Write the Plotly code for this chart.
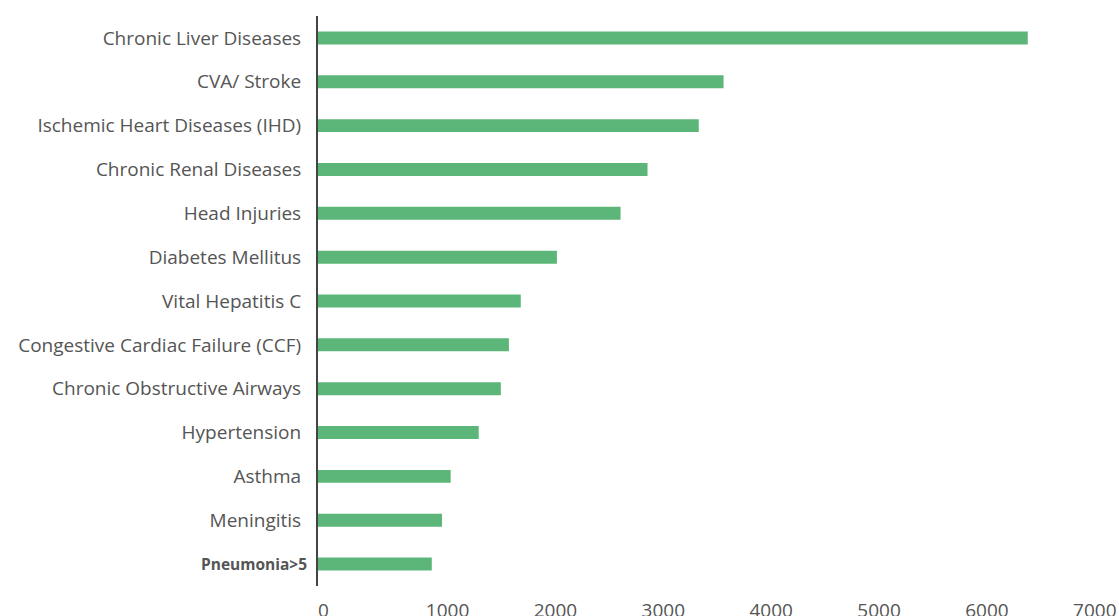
import plotly.graph_objects as go

# Conditions, listed top to bottom
conditions = [
    "Chronic Liver Diseases",
    "CVA/ Stroke",
    "Ischemic Heart Diseases (IHD)",
    "Chronic Renal Diseases",
    "Head Injuries",
    "Diabetes Mellitus",
    "Vital Hepatitis C",
    "Congestive Cardiac Failure (CCF)",
    "Chronic Obstructive Airways",
    "Hypertension",
    "Asthma",
    "Meningitis",
    "Pneumonia>5",
]
cases = [6580, 3760, 3530, 3055, 2805, 2215, 1880, 1770, 1695, 1490, 1230, 1150, 1055]
x_ticks = [0, 1000, 2000, 3000, 4000, 5000, 6000, 7000]

highlight = "Pneumonia>5"

# Regular tick text; the highlighted condition is drawn separately as bold annotation
tick_text = ["" if name == highlight else name for name in conditions]

fig = go.Figure(
    go.Bar(
        x=cases,
        y=conditions,
        orientation="h",
        marker=dict(color="#5db679", line=dict(width=0)),
        hoverinfo="x+y",
    )
)

plot_left = 318
fig_width = 1119

fig.update_layout(
    width=fig_width,
    height=616,
    margin=dict(l=plot_left, r=0, t=16, b=30),
    paper_bgcolor="white",
    plot_bgcolor="white",
    bargap=0.704,
    showlegend=False,
    font=dict(family="Open Sans", size=19, color="#555555"),
)

fig.add_annotation(
    x=-9 / (fig_width - plot_left),
    xref="paper",
    y=highlight,
    yref="y",
    text="<b>" + highlight.replace(">", "&gt;") + "</b>",
    showarrow=False,
    xanchor="right",
    yanchor="middle",
    font=dict(family="Open Sans", size=15.5, color="#555555"),
)

fig.update_xaxes(
    range=[0, 7426],
    tickmode="array",
    tickvals=x_ticks,
    ticktext=[str(v) for v in x_ticks],
    ticklabelposition="outside right",
    ticks="",
    showgrid=False,
    zeroline=False,
    showline=False,
    automargin=False,
    tickfont=dict(size=19, color="#555555"),
    ticklabelstandoff=11,
)

fig.update_yaxes(
    categoryorder="array",
    categoryarray=conditions,
    tickmode="array",
    tickvals=conditions,
    ticktext=tick_text,
    autorange="reversed",
    showline=True,
    linecolor="#444444",
    linewidth=2,
    ticks="",
    showgrid=False,
    zeroline=False,
    automargin=False,
    tickfont=dict(size=19, color="#555555"),
    ticklabelstandoff=11,
)

fig.write_html("out.html")
